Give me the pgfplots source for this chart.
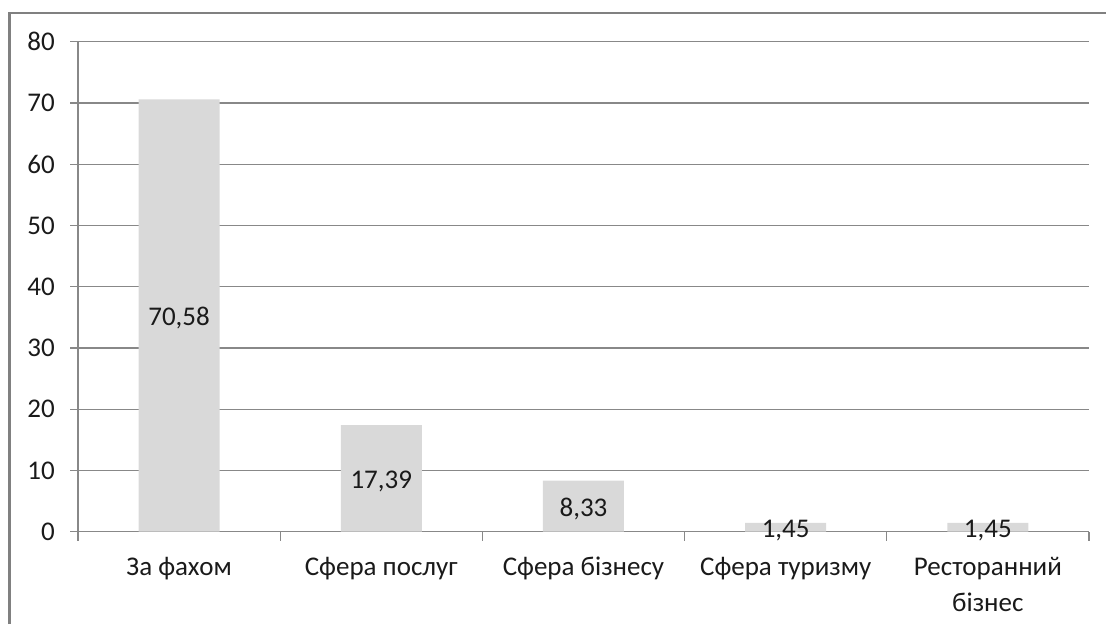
\documentclass[border=0pt]{standalone}
\usepackage{fontspec}
\setmainfont{Carlito}
\usepackage{pgfplots}
\pgfplotsset{compat=1.18}
\definecolor{barfill}{HTML}{D9D9D9}
\definecolor{gridgray}{HTML}{888888}
\definecolor{framegray}{HTML}{808080}
\definecolor{textcol}{HTML}{1A1A1A}
\newcommand{\chartfont}{\fontsize{27}{36}\selectfont}
\begin{document}
\chartfont
\begin{tikzpicture}
\useasboundingbox (0pt,0pt) rectangle (1106pt,624pt);
% outer frame (left and top edges)
\draw[framegray, line width=2.2pt] (9.5pt,0pt) -- (9.5pt,611pt) -- (1106pt,611pt);
\begin{axis}[
  at={(78pt,92.3pt)}, anchor=south west,
  scale only axis, width=1011pt, height=490pt,
  xmin=-0.5, xmax=4.5, ymin=0, ymax=80,
  ytick={0,10,...,80},
  xtick={0,...,4},
  xticklabels={\strut За фахом, \strut Сфера послуг, \strut Сфера бізнесу, \strut Сфера туризму, {\strut Ресторанний\\бізнес}},
  axis lines*=left,
  axis line style={gridgray, line width=1.3pt},
  ymajorgrids,
  major grid style={gridgray, line width=1.3pt},
  tick align=outside,
  major tick length=8pt,
  ytick style={gridgray, line width=1.3pt},
  xtick style={draw=none},
  extra x ticks={-0.5,0.5,1.5,2.5,3.5,4.5},
  extra x tick labels={},
  extra x tick style={grid=none, xtick style={draw=gridgray, line width=1.3pt}, major tick length=9pt},
  /pgf/number format/assume math mode=true,
  tick label style={font=\chartfont, text=textcol},
  xticklabel style={align=center, anchor=north, inner sep=0pt, yshift=-10pt},
  yticklabel style={anchor=east, inner sep=0pt, xshift=-15pt},
  ybar, bar width=81pt,
  visualization depends on={y \as \rawy},
  nodes near coords={\pgfmathprintnumber[fixed, fixed zerofill, precision=2, use comma]{\pgfplotspointmeta}},
  every node near coord/.append style={font=\chartfont, text=textcol, anchor=base, inner sep=0pt, yshift={-3.0625pt*\rawy-10.2pt}},
]
\addplot[fill=barfill, draw=none] coordinates {
  (0,70.58) (1,17.39) (2,8.33) (3,1.45) (4,1.45)
};
\end{axis}
\end{tikzpicture}
\end{document}
